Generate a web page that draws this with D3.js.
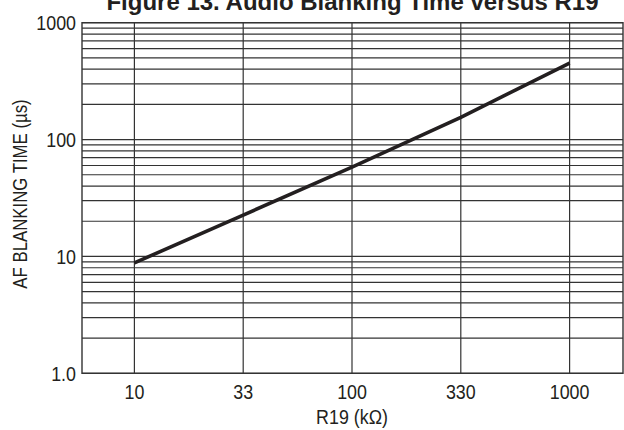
<!DOCTYPE html>
<html>
<head>
<meta charset="utf-8">
<script src="https://cdn.jsdelivr.net/npm/d3@7/dist/d3.min.js"></script>
<style>
  html, body { margin: 0; padding: 0; background: #fff; }
  svg { display: block; }
</style>
</head>
<body>
<svg id="chart" width="624" height="430"></svg>
<script>
// ---- data ----
const title = "Figure 13. Audio Blanking Time versus R19";
const xCategories = ["10", "33", "100", "330", "1000"];          // R19 (kΩ)
const blankingTime = [8.8, 22.6, 58, 155, 450];                   // µs
const yTickValues = [1, 10, 100, 1000];
const yTickLabels = ["1.0", "10", "100", "1000"];
const yMinorMultipliers = [2, 3, 4, 5, 6, 7, 8, 9];
const xLabel = "R19 (kΩ)";
const yLabel = "AF BLANKING TIME (µs)";

// ---- layout ----
const svg = d3.select("#chart");
const plotLeft = 82, plotRight = 623, plotTop = 22.7, plotBottom = 373.3;
const ink = "#231f20";
const font = "'Liberation Sans', Arial, sans-serif";
const squeeze = 0.85;   // condensed look of the reference typeface

const x = d3.scalePoint().domain(xCategories).range([80, 624]).padding(0.5);
const y = d3.scaleLog().domain([1, 1000]).range([plotBottom, plotTop]);

// horizontal grid lines (minor + major)
const hLines = [];
[1, 10, 100].forEach(dec => yMinorMultipliers.forEach(m => hLines.push(dec * m)));
yTickValues.forEach(v => hLines.push(v));

svg.append("g").selectAll("line").data(hLines).join("line")
  .attr("x1", plotLeft).attr("x2", plotRight)
  .attr("y1", d => y(d)).attr("y2", d => y(d))
  .attr("stroke", "#333").attr("stroke-width", 1.2);

// vertical grid lines
svg.append("g").selectAll("line").data(xCategories).join("line")
  .attr("x1", d => x(d)).attr("x2", d => x(d))
  .attr("y1", plotTop).attr("y2", plotBottom)
  .attr("stroke", "#333").attr("stroke-width", 1.2);

// border
svg.append("rect")
  .attr("x", plotLeft).attr("y", plotTop)
  .attr("width", plotRight - plotLeft).attr("height", plotBottom - plotTop)
  .attr("fill", "none").attr("stroke", "#333").attr("stroke-width", 1.4);

// curve
const line = d3.line().x((d, i) => x(xCategories[i])).y(d => y(d));
svg.append("path").datum(blankingTime)
  .attr("d", line)
  .attr("fill", "none").attr("stroke", ink).attr("stroke-width", 3.6);

// y tick labels
svg.append("g").selectAll("g").data(yTickValues).join("g")
  .attr("transform", d => `translate(${plotLeft - 6},${y(d)}) scale(${squeeze},1)`)
  .append("text")
  .attr("dy", "0.36em")
  .attr("text-anchor", "end")
  .attr("font-family", font).attr("font-size", 21).attr("fill", ink)
  .text((d, i) => yTickLabels[i]);

// x tick labels
svg.append("g").selectAll("g").data(xCategories).join("g")
  .attr("transform", d => `translate(${x(d)},398.5) scale(${squeeze},1)`)
  .append("text")
  .attr("text-anchor", "middle")
  .attr("font-family", font).attr("font-size", 21).attr("fill", ink)
  .text(d => d);

// axis titles
svg.append("g")
  .attr("transform", `translate(${x("100")},424) scale(${squeeze},1)`)
  .append("text")
  .attr("text-anchor", "middle")
  .attr("font-family", font).attr("font-size", 21).attr("fill", ink)
  .text(xLabel);

svg.append("g")
  .attr("transform", "translate(27,194) rotate(-90) scale(0.8,1)")
  .append("text")
  .attr("text-anchor", "middle")
  .attr("font-family", font).attr("font-size", 21).attr("fill", ink)
  .text(yLabel);

// chart title (partly clipped at top, as in the reference)
svg.append("text")
  .attr("x", (plotLeft + plotRight) / 2).attr("y", 10)
  .attr("text-anchor", "middle")
  .attr("font-family", font)
  .attr("font-weight", "bold").attr("font-size", 24).attr("fill", ink)
  .text(title);
</script>
</body>
</html>
